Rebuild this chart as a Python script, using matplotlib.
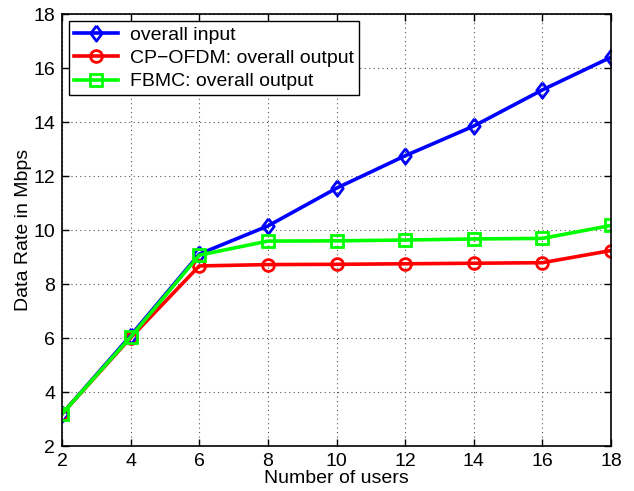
import matplotlib
matplotlib.use('Agg')
import matplotlib.pyplot as plt

plt.rcParams['font.family'] = ['Liberation Sans', 'DejaVu Sans']

users = [2, 4, 6, 8, 10, 12, 14, 16, 18]
overall_input = [3.2, 6.1, 9.12, 10.16, 11.56, 12.76, 13.86, 15.2, 16.41]
cp_ofdm_output = [3.2, 6.02, 8.68, 8.73, 8.74, 8.76, 8.78, 8.8, 9.25]
fbmc_output = [3.2, 6.05, 9.08, 9.6, 9.61, 9.64, 9.68, 9.7, 10.18]

# matlab-ish diamond, a bit taller than wide
diamond = [(0, 1), (0.75, 0), (0, -1), (-0.75, 0), (0, 1)]

fig = plt.figure(figsize=(6.34, 4.91), dpi=100)
ax = fig.add_axes([62 / 634, 1 - 446.3 / 491, (611 - 62) / 634, (446.3 - 14.3) / 491])

ax.plot(users, overall_input, color='blue', marker=diamond, mfc='none', mew=2,
        markersize=11, lw=2.6, label='overall input')
ax.plot(users, cp_ofdm_output, color='red', marker='o', mfc='none', mew=2,
        markersize=8.5, lw=2.6, label='CP\u2212OFDM: overall output')
ax.plot(users, fbmc_output, color='#00ff00', marker='s', mfc='none', mew=2,
        markersize=8, lw=2.6, label='FBMC: overall output')

ax.set_xlim(2, 18)
ax.set_ylim(2, 18)
ax.set_xticks(range(2, 19, 2))
ax.set_yticks(range(2, 19, 2))
ax.tick_params(direction='in', top=True, right=True, labelsize=14, length=5, width=1, pad=5)
ax.grid(True, linestyle=(0, (1, 3)), color='#555555', linewidth=0.8)
for s in ax.spines.values():
    s.set_linewidth(1.2)

ax.set_xlabel('Number of users', fontsize=14, labelpad=0)
ax.set_ylabel('Data Rate in Mbps', fontsize=14, labelpad=1)

leg = ax.legend(loc='upper left', fontsize=14, fancybox=False, framealpha=1,
                edgecolor='black', borderaxespad=0.35, handlelength=2.3,
                labelspacing=0.3, borderpad=0.25, handletextpad=0.6)
leg.get_frame().set_linewidth(1.0)

fig.savefig('out.png', dpi=100)
